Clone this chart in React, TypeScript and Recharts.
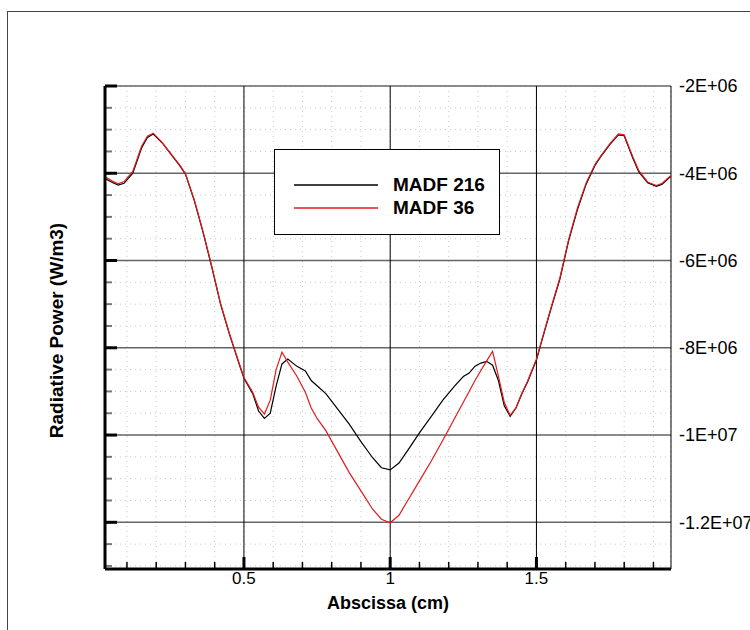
import { LineChart, Line, XAxis, YAxis, CartesianGrid, Legend } from 'recharts';

// abscissa in cm, radiative power in units of 1E+06 W/m3
const abscissa = [
  0.025, 0.05, 0.07, 0.09, 0.12, 0.15, 0.17, 0.19, 0.22, 0.25,
  0.28, 0.30, 0.33, 0.36, 0.39, 0.42, 0.45, 0.48, 0.50, 0.53,
  0.55, 0.57, 0.59, 0.61, 0.63, 0.65, 0.68, 0.71, 0.73, 0.75,
  0.78, 0.82, 0.86, 0.90, 0.94, 0.97, 1.00, 1.03, 1.06, 1.10,
  1.14, 1.18, 1.22, 1.25, 1.27, 1.29, 1.31, 1.33, 1.35, 1.37,
  1.39, 1.41, 1.43, 1.45, 1.47, 1.50, 1.52, 1.55, 1.58, 1.61,
  1.64, 1.67, 1.70, 1.72, 1.75, 1.78, 1.80, 1.83, 1.85, 1.88,
  1.91, 1.93, 1.96,
];

const madf216 = [
  -4.12, -4.21, -4.27, -4.23, -4.0, -3.42, -3.18, -3.1, -3.3, -3.56,
  -3.82, -4.02, -4.62, -5.35, -6.15, -7.0, -7.68, -8.3, -8.7, -9.05,
  -9.45, -9.62, -9.5, -8.88, -8.37, -8.26, -8.42, -8.53, -8.75, -8.87,
  -9.05, -9.4, -9.75, -10.15, -10.52, -10.75, -10.8, -10.64, -10.35, -9.95,
  -9.58, -9.2, -8.88, -8.66, -8.58, -8.42, -8.35, -8.31, -8.4, -8.75,
  -9.33, -9.57, -9.38, -9.06, -8.78, -8.28, -7.8, -7.1, -6.43, -5.55,
  -4.84, -4.25, -3.82, -3.62, -3.35, -3.12, -3.14, -3.66, -3.97, -4.22,
  -4.3, -4.25, -4.07,
];

const madf36 = [
  -4.08, -4.18, -4.24, -4.19, -3.96, -3.38, -3.15, -3.08, -3.29, -3.55,
  -3.81, -4.01, -4.6, -5.33, -6.13, -6.98, -7.66, -8.28, -8.68, -9.02,
  -9.36, -9.52, -9.2, -8.5, -8.1, -8.33, -8.64, -9.02, -9.38, -9.62,
  -9.9, -10.38, -10.86, -11.28, -11.7, -11.93, -12.01, -11.84, -11.5, -11.05,
  -10.6, -10.12, -9.62, -9.25, -9.0, -8.75, -8.52, -8.3, -8.08, -8.65,
  -9.25, -9.55, -9.38, -9.04, -8.76, -8.26, -7.78, -7.08, -6.4, -5.52,
  -4.8, -4.22, -3.8, -3.6, -3.33, -3.1, -3.12, -3.63, -3.94, -4.2,
  -4.28, -4.23, -4.05,
];

const xMajorTicks = [0.5, 1, 1.5];
const xTickLabels = ['0.5', '1', '1.5'];
const xMinorTicks = [0.1, 0.2, 0.3, 0.4, 0.5, 0.6, 0.7, 0.8, 0.9, 1.0, 1.1, 1.2, 1.3, 1.4, 1.5, 1.6, 1.7, 1.8, 1.9];

const yMajorTicks = [-2e6, -4e6, -6e6, -8e6, -1e7, -1.2e7];
const yTickLabels = ['-2E+06', '-4E+06', '-6E+06', '-8E+06', '-1E+07', '-1.2E+07'];
const yMinorTicks = [
  -2e6, -2.5e6, -3e6, -3.5e6, -4e6, -4.5e6, -5e6, -5.5e6, -6e6, -6.5e6, -7e6, -7.5e6,
  -8e6, -8.5e6, -9e6, -9.5e6, -1e7, -1.05e7, -1.1e7, -1.15e7, -1.2e7, -1.25e7, -1.3e7,
];

const X_DOMAIN = [0.025, 1.96];
const Y_DOMAIN = [-13.07e6, -2e6];
const FONT = '"Liberation Sans", Arial, Helvetica, sans-serif';
const THIN = 0.01; // axes need a non-zero box to be drawn

const rows = abscissa.map((x, i) => ({
  x,
  madf216: madf216[i] * 1e6,
  madf36: madf36[i] * 1e6,
}));

const blank = () => '';

function LegendBox({ payload }: any) {
  return (
    <div
      style={{
        width: 226,
        height: 86,
        boxSizing: 'border-box',
        border: '1.5px solid #000',
        background: '#fff',
        paddingTop: 23,
        fontFamily: FONT,
      }}
    >
      {(payload ?? []).map((p: any) => (
        <div key={p.value} style={{ display: 'flex', alignItems: 'center', height: 23, marginLeft: 19 }}>
          <svg width={84} height={2} style={{ display: 'block' }}>
            <line x1={0} y1={1} x2={84} y2={1} stroke={p.color ?? p.payload?.stroke} strokeWidth={1.5} />
          </svg>
          <span style={{ marginLeft: 15, fontWeight: 'bold', fontSize: 19, lineHeight: '23px', color: '#000' }}>
            {p.value}
          </span>
        </div>
      ))}
    </div>
  );
}

function YTitle(props: any) {
  const vb = props?.viewBox ?? { x: 105, y: 86, width: 0, height: 483 };
  const cx = vb.x - 48;
  const cy = vb.y + vb.height / 2 + 3;
  return (
    <text
      x={cx}
      y={cy}
      transform={`rotate(-90, ${cx}, ${cy})`}
      textAnchor="middle"
      dominantBaseline="central"
      fontFamily={FONT}
      fontWeight="bold"
      fontSize={19}
      fill="#000"
    >
      Radiative Power (W/m3)
    </text>
  );
}

export default function App() {
  return (
    <div style={{ position: 'fixed', left: 0, top: 0, width: 750, height: 630, overflow: 'hidden', background: '#fff' }}>
      <div
        style={{
          position: 'absolute',
          left: 7,
          top: 11,
          width: 800,
          height: 700,
          border: '1.5px solid #444',
        }}
      />
      <div style={{ position: 'absolute', left: 0, top: 0 }}>
        <LineChart
          width={750}
          height={630}
          data={rows}
          margin={{ top: 86, right: 79, bottom: 61, left: 105 }}
          style={{ fontFamily: FONT }}
        >
          <CartesianGrid
            xAxisId="minorX"
            yAxisId="minorY"
            stroke="#c8c8c8"
            strokeDasharray="1 4"
          />
          <CartesianGrid vertical={false} stroke="#666" strokeWidth={1.6} />
          <CartesianGrid xAxisId="majorX" horizontal={false} stroke="#000" strokeWidth={1} />

          <XAxis
            dataKey="x"
            type="number"
            domain={X_DOMAIN}
            allowDataOverflow
            ticks={xMajorTicks}
            interval={0}
            height={THIN}
            axisLine={false}
            tickLine={false}
            tickSize={3}
            tickMargin={0}
            tickFormatter={(v: number) => xTickLabels[xMajorTicks.indexOf(v)] ?? ''}
            tick={{ fill: '#000', fontSize: 17, fontFamily: FONT }}
            label={{
              value: 'Abscissa (cm)',
              position: 'bottom',
              offset: 27,
              fill: '#000',
              fontSize: 18,
              fontWeight: 'bold',
              fontFamily: FONT,
            }}
          />
          <XAxis
            xAxisId="minorX"
            dataKey="x"
            type="number"
            domain={X_DOMAIN}
            allowDataOverflow
            ticks={xMinorTicks}
            interval={0}
            height={THIN}
            mirror
            axisLine={false}
            tickSize={7}
            tickLine={{ stroke: '#000', strokeWidth: 1.5 }}
            tickFormatter={blank}
          />
          <XAxis
            xAxisId="majorX"
            dataKey="x"
            type="number"
            domain={X_DOMAIN}
            allowDataOverflow
            ticks={xMajorTicks}
            interval={0}
            height={THIN}
            mirror
            axisLine={{ stroke: '#000', strokeWidth: 3 }}
            tickSize={12}
            tickLine={{ stroke: '#000', strokeWidth: 3 }}
            tickFormatter={blank}
          />

          <YAxis
            orientation="right"
            type="number"
            domain={Y_DOMAIN}
            allowDataOverflow
            ticks={yMajorTicks}
            interval={0}
            width={THIN}
            axisLine={false}
            tickLine={false}
            tickFormatter={(v: number) => yTickLabels[yMajorTicks.indexOf(v)] ?? ''}
            tick={{ fill: '#000', fontSize: 18, fontFamily: FONT, textAnchor: 'start' }}
          />
          <YAxis
            yAxisId="minorY"
            orientation="left"
            type="number"
            domain={Y_DOMAIN}
            allowDataOverflow
            ticks={yMinorTicks}
            interval={0}
            width={THIN}
            mirror
            axisLine={false}
            tickSize={7}
            tickLine={{ stroke: '#777', strokeWidth: 2 }}
            tickFormatter={blank}
          />
          <YAxis
            yAxisId="majorY"
            orientation="left"
            type="number"
            domain={Y_DOMAIN}
            allowDataOverflow
            ticks={yMajorTicks}
            interval={0}
            width={THIN}
            mirror
            axisLine={{ stroke: '#000', strokeWidth: 3 }}
            tickSize={12}
            tickLine={{ stroke: '#000', strokeWidth: 3 }}
            tickFormatter={blank}
            label={YTitle}
          />

          <Line
            type="linear"
            dataKey="madf216"
            name="MADF 216"
            stroke="#000"
            strokeWidth={1.2}
            dot={false}
            isAnimationActive={false}
          />
          <Line
            type="linear"
            dataKey="madf36"
            name="MADF 36"
            stroke="#e3191c"
            strokeWidth={1.2}
            dot={false}
            isAnimationActive={false}
          />

          <Legend
            layout="vertical"
            align="center"
            verticalAlign="middle"
            content={<LegendBox />}
            wrapperStyle={{ left: 274, top: 149, width: 226 }}
          />
        </LineChart>
      </div>
    </div>
  );
}
